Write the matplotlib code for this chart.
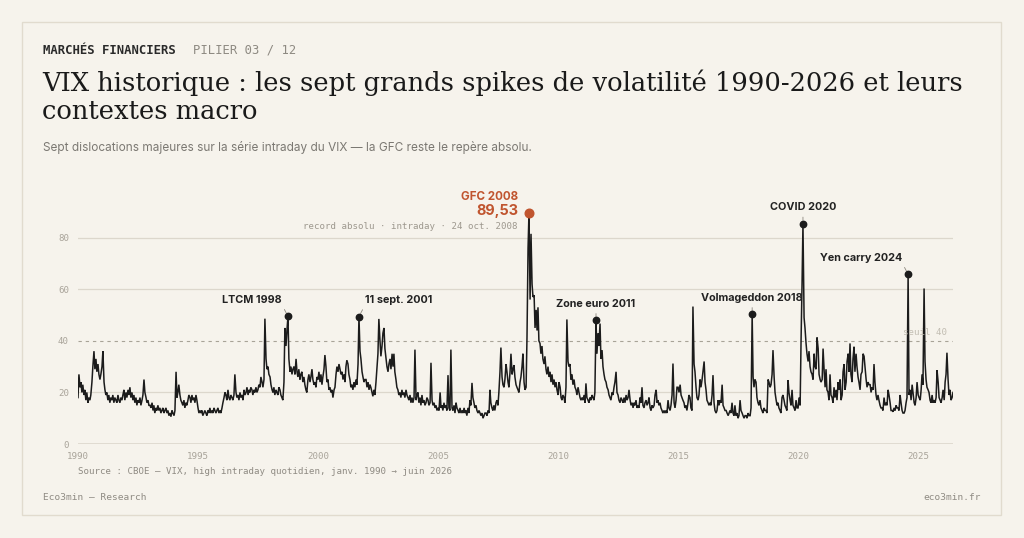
import numpy as np
import pandas as pd
import matplotlib
matplotlib.use("Agg")
import matplotlib.pyplot as plt
import matplotlib.dates as mdates
from matplotlib.patches import Rectangle

# ---------------- DATA (VIX high intraday, semi-monthly reading) ----------------
vix_1990 = [18, 27, 22, 24, 20, 23, 19, 21, 17, 20, 16, 18, 17, 19, 24, 30, 36, 29, 33, 28, 31, 27, 25, 27]
vix_1991 = [30, 36, 24, 21, 19, 20, 17, 19, 16, 18, 17, 19, 16, 18, 17, 16, 19, 17, 16, 18, 17, 19, 21, 17]
vix_1992 = [20, 18, 21, 19, 22, 18, 20, 17, 19, 16, 18, 15, 17, 16, 18, 15, 17, 19, 25, 20, 18, 16, 17, 15]
vix_1993 = [15, 14, 16, 13, 15, 12, 14, 13, 15, 13, 14, 12, 13, 14, 12, 13, 14, 12, 13, 11, 12, 10.6, 13, 12]
vix_1994 = [11, 13, 28, 18, 20, 23, 19, 17, 16, 15, 17, 14, 16, 15, 17, 19, 18, 16, 19, 17, 18, 16, 19, 17]
vix_1995 = [14, 12, 13, 12, 13, 11, 12, 13, 12, 11, 13, 12, 14, 12, 13, 12, 14, 13, 12, 13, 14, 12, 13, 12]
vix_1996 = [14, 16, 18, 20, 19, 17, 21, 18, 17, 19, 18, 17, 19, 27, 20, 18, 19, 17, 20, 18, 19, 17, 21, 19]
vix_1997 = [20, 22, 19, 21, 20, 22, 21, 19, 21, 20, 22, 20, 21, 23, 22, 26, 24, 22, 25, 48.6, 33, 29, 30, 27]
vix_1998 = [26, 23, 21, 20, 22, 19, 21, 20, 19, 22, 21, 19, 18, 17, 24, 45, 38, 44, 49.5, 33, 28, 30, 27, 29]
vix_1999 = [30, 27, 33, 28, 26, 29, 25, 27, 28, 24, 26, 23, 21, 20, 25, 27, 24, 26, 29, 25, 23, 24, 22, 26]
vix_2000 = [25, 28, 24, 27, 23, 26, 29, 34.5, 30, 24, 25, 21, 22, 20, 21, 18, 21, 22, 27, 30, 28, 31, 29, 27]
vix_2001 = [28, 25, 27, 24, 30, 32.5, 31, 27, 25, 22, 23, 21, 24, 22, 25, 23, 31, 49.4, 36, 33, 28, 26, 24, 25]
vix_2002 = [25, 22, 24, 21, 23, 22, 20, 18.5, 21, 19, 24, 29, 35, 48.5, 40, 34, 38, 43, 45, 37, 33, 30, 28, 31]
vix_2003 = [33, 29, 35, 30, 35, 28, 25, 22, 21, 19, 20, 18, 21, 19, 20, 18, 21, 19, 18, 17, 19, 16, 18, 16]
vix_2004 = [18, 36.6, 17, 19, 20, 16, 18, 15, 19, 16, 17, 15, 16, 18, 17, 15, 16, 31.5, 17, 15, 16, 14, 15, 13]
vix_2005 = [14, 13, 20, 14, 15, 13, 16, 14, 15, 13, 26.7, 14, 13, 36.6, 14, 13, 15, 12, 16, 14, 13, 12, 14, 12]
vix_2006 = [13, 12, 14, 12, 13, 11, 14, 12, 17, 15, 23.7, 18, 16, 14, 15, 13, 12, 13, 12, 11, 12, 10, 11, 12]
vix_2007 = [12, 11, 13, 12, 21, 16, 14, 13, 15, 13, 16, 17, 15, 20, 28, 37.4, 26, 23, 22, 25, 31, 28, 24, 22]
vix_2008 = [28, 35, 27, 29, 30.6, 26, 23, 22, 21, 20, 24, 26, 30, 35, 24, 21, 22, 41.5, 76, 89.53, 56, 81.5, 62, 57]
vix_2009 = [57.7, 45, 52, 44, 53, 40, 39, 35, 38, 33, 31, 34, 29, 27, 30, 26, 28, 24, 27, 23, 25, 22, 24, 21]
vix_2010 = [19, 24, 22, 18, 17, 19, 18, 16, 22, 48.3, 32, 30, 31, 25, 27, 23, 25, 22, 21, 19, 22, 20, 18, 17]
vix_2011 = [18, 17, 19, 16, 23.5, 18, 17, 16, 18, 17, 19, 18, 17, 20, 48, 35, 43, 38, 46.7, 33, 36.4, 30, 27, 25]
vix_2012 = [24, 22, 21, 19, 18, 17, 20, 19, 22, 24, 28, 20, 19, 17, 16, 18, 17, 16, 18, 16, 19, 17, 18, 21]
vix_2013 = [17, 15, 16, 14, 16, 15, 17, 14, 15, 14, 18, 16, 22, 15, 14, 16, 17, 15, 16, 18, 14, 13, 15, 14]
vix_2014 = [15, 19, 21, 16, 17, 15, 16, 14, 13, 12, 13, 12, 13, 12, 17, 14, 13, 15, 19, 31.2, 16, 14, 17, 22]
vix_2015 = [22, 20, 23, 19, 18, 17, 16, 14, 15, 13, 16, 19, 18, 14, 13, 53.3, 31, 28, 22, 18, 17, 19, 25, 22]
vix_2016 = [25, 28, 32, 24, 21, 17, 16, 15, 16, 15, 19, 26.7, 16, 13, 12, 13, 17, 15, 17, 16, 23, 15, 14, 13]
vix_2017 = [13, 12, 11, 12, 13, 12, 16, 12, 11, 15, 11, 12, 10, 11, 17, 13, 12, 11, 10, 11, 11, 10, 12, 11]
vix_2018 = [11, 14, 50.3, 26, 22, 25, 24, 18, 16, 15, 17, 14, 13, 12, 14, 13, 13, 12, 25, 24, 22, 23, 27, 36.4]
vix_2019 = [26, 20, 17, 15, 16, 14, 13, 12, 18, 19, 17, 15, 14, 13, 24.8, 20, 17, 15, 21, 15, 14, 13, 17, 14]
vix_2020 = [14, 18, 15, 40, 62, 85.4, 49, 45, 39, 35, 32, 36, 30, 28, 27, 25, 35, 30, 29, 41.3, 37, 27, 25, 24]
vix_2021 = [25, 37, 28, 22, 29, 21, 20, 17, 27, 19, 18, 16, 22, 18, 21, 17, 24, 21, 25, 17, 19, 28, 31, 21]
vix_2022 = [24, 32, 35, 28, 39, 27, 24, 33, 37.7, 28, 35, 30, 26, 24, 21, 27, 28, 35, 34, 30, 25, 22, 24, 23]
vix_2023 = [23, 20, 22, 21, 31, 24, 19, 17, 19, 17, 15, 14, 14, 13, 18, 15, 16, 15, 21, 19, 16, 13, 13, 12.5]
vix_2024 = [14, 13, 15, 14, 14, 13, 19, 16, 13, 12, 12, 13, 16, 18, 65.8, 19, 21, 17, 23, 20, 16, 15, 18, 24]
vix_2025 = [19, 18, 17, 21, 27, 23, 60.3, 32, 25, 22, 21, 20, 17, 16, 19, 16, 17, 16, 18, 28.6, 24, 18, 17, 16]
vix_2026 = [18, 21, 17, 24, 27, 35.4, 25, 19, 21, 17, 18, 20]

series_start = "1990-01-01"
y_ticks = [0, 20, 40, 60, 80]
x_tick_years = [1990, 1995, 2000, 2005, 2010, 2015, 2020, 2025]
threshold = 40

event_labels = ["LTCM 1998", "11 sept. 2001", "Zone euro 2011", "Volmageddon 2018", "COVID 2020", "Yen carry 2024"]
event_dates = ["1998-10-01", "2001-09-15", "2011-08-01", "2018-02-01", "2020-03-15", "2024-08-01"]
gfc_label = "GFC 2008"
gfc_date = "2008-10-15"
gfc_note = "record absolu · intraday · 24 oct. 2008"

# ---------------- BUILD SERIES ----------------
all_years = [vix_1990, vix_1991, vix_1992, vix_1993, vix_1994, vix_1995, vix_1996, vix_1997,
             vix_1998, vix_1999, vix_2000, vix_2001, vix_2002, vix_2003, vix_2004, vix_2005,
             vix_2006, vix_2007, vix_2008, vix_2009, vix_2010, vix_2011, vix_2012, vix_2013,
             vix_2014, vix_2015, vix_2016, vix_2017, vix_2018, vix_2019, vix_2020, vix_2021,
             vix_2022, vix_2023, vix_2024, vix_2025, vix_2026]
vix = np.concatenate([np.asarray(v, dtype=float) for v in all_years])
dates = pd.date_range(series_start, periods=len(vix), freq="SMS")
xs = mdates.date2num(dates.to_pydatetime())


def peak_near(date_str, days=20):
    t = pd.Timestamp(date_str)
    mask = (dates >= t - pd.Timedelta(days=days)) & (dates <= t + pd.Timedelta(days=days))
    idx = np.where(mask)[0]
    i = idx[np.argmax(vix[idx])]
    return xs[i], vix[i]


# ---------------- STYLE ----------------
W, H = 1024, 538
BG = "#f6f3ec"
INK = "#1c1c1c"
GRID = "#dcd7cc"
MUTED = "#a9a49a"
ACCENT = "#c0552f"
MONO = "DejaVu Sans Mono"
SANS = ["Inter", "DejaVu Sans"]
SERIF = ["DejaVu Serif"]

fig = plt.figure(figsize=(W / 100, H / 100), dpi=100, facecolor=BG)


def fx(px):
    return px / W


def fy(py):
    return 1 - py / H


card = Rectangle((fx(22), fy(515)), fx(1001) - fx(22), fy(22) - fy(515),
                 transform=fig.transFigure, facecolor=BG, edgecolor="#e1dbce", lw=1.0, zorder=0)
fig.add_artist(card)

# header
fig.text(fx(43), fy(50), "MARCHÉS FINANCIERS", family=MONO, weight="bold", fontsize=8.8,
         color="#2a2a2a", ha="left", va="center")
fig.text(fx(193), fy(50), "PILIER 03 / 12", family=MONO, fontsize=8.8,
         color="#8e8a82", ha="left", va="center")
fig.text(fx(42), fy(69),
         "VIX historique : les sept grands spikes de volatilité 1990-2026 et leurs\ncontextes macro",
         family=SERIF, fontsize=18.5, color="#1a1a1a", ha="left", va="top", linespacing=1.18)
fig.text(fx(43), fy(147),
         "Sept dislocations majeures sur la série intraday du VIX — la GFC reste le repère absolu.",
         family=SANS, fontsize=8.5, color="#7b7872", ha="left", va="center")

# axes
ax = fig.add_axes([fx(78), fy(444), fx(953) - fx(78), fy(199) - fy(444)])
ax.set_facecolor("none")
ax.set_xlim(xs[0], xs[-1])
ax.set_ylim(0, 95)
for s in ax.spines.values():
    s.set_visible(False)

for v in y_ticks:
    if v == 0:
        ax.axhline(v, color="#d9d4c9", lw=1.8, zorder=1)
    elif v == threshold:
        ax.axhline(v, color="#a8a397", lw=0.8, ls=(0, (3, 3.5)), zorder=1)
    else:
        ax.axhline(v, color=GRID, lw=0.9, zorder=1)

ax.plot(xs, vix, color=INK, lw=1.1, zorder=3, solid_joinstyle="miter")

ax.set_yticks(y_ticks)
ax.set_yticklabels([str(v) for v in y_ticks])
ax.set_xticks([mdates.date2num(pd.Timestamp(f"{y}-01-01").to_pydatetime()) for y in x_tick_years])
ax.set_xticklabels([str(y) for y in x_tick_years])
ax.tick_params(axis="both", length=0, labelsize=6.6, colors=MUTED)
ax.tick_params(axis="y", pad=6.5)
ax.tick_params(axis="x", pad=6)
for lab in ax.get_xticklabels() + ax.get_yticklabels():
    lab.set_family(MONO)

ax.annotate(f"seuil {threshold}", xy=(1.0, threshold), xycoords=ax.get_yaxis_transform(),
            xytext=(-6, 8), textcoords="offset pixels", ha="right", va="center",
            family=MONO, fontsize=6.6, color="#c2bdb2", annotation_clip=False)

# events
placements = {
    "LTCM 1998": ("right", -6, (1, 0)),
    "11 sept. 2001": ("left", 6, (0, 0)),
    "Zone euro 2011": ("center", 0, (0.5, 0)),
    "Volmageddon 2018": ("center", 0, (0.5, 0)),
    "COVID 2020": ("center", 0, (0.5, 0)),
    "Yen carry 2024": ("right", -6, (1, 0)),
}
for lab, d in zip(event_labels, event_dates):
    px_, py_ = peak_near(d)
    ha, dx, rel = placements[lab]
    ax.plot([px_], [py_], "o", color=INK, ms=4.6, zorder=5)
    ax.annotate(lab, xy=(px_, py_), xytext=(dx, 16.5), textcoords="offset pixels",
                ha=ha, va="center", family=SANS, weight="bold", fontsize=7.8, color="#222222",
                annotation_clip=False,
                arrowprops=dict(arrowstyle="-", color="#8c877e", lw=0.6, shrinkA=1.5, shrinkB=2.5,
                                relpos=rel))

gx, gy = peak_near(gfc_date)
ax.plot([gx], [gy], "o", color=ACCENT, ms=6.2, zorder=6, clip_on=False)
ax.annotate(gfc_label, xy=(gx, gy), xytext=(-11, 16), textcoords="offset pixels",
            ha="right", va="center", family=SANS, weight="bold", fontsize=8.4, color=ACCENT,
            annotation_clip=False)
ax.annotate(f"{gy:.2f}".replace(".", ","), xy=(gx, gy), xytext=(-11, 2), textcoords="offset pixels",
            ha="right", va="center", family=SANS, weight="bold", fontsize=10.4, color=ACCENT,
            annotation_clip=False)
ax.annotate(gfc_note, xy=(gx, gy), xytext=(-11, -13), textcoords="offset pixels",
            ha="right", va="center", family=MONO, fontsize=6.6, color="#9d988e",
            annotation_clip=False)

# source & footer
fig.text(fx(78), fy(471), "Source : CBOE — VIX, high intraday quotidien, janv. 1990 → juin 2026",
         family=MONO, fontsize=6.6, color="#8f8b83", ha="left", va="center")
fig.text(fx(43), fy(498), "Eco3min — Research", family=MONO, fontsize=6.8, color="#8f8b83",
         ha="left", va="center")
fig.text(fx(981), fy(498), "eco3min.fr", family=MONO, fontsize=6.8, color="#8f8b83",
         ha="right", va="center")

fig.savefig("out.png", dpi=100, facecolor=BG)
